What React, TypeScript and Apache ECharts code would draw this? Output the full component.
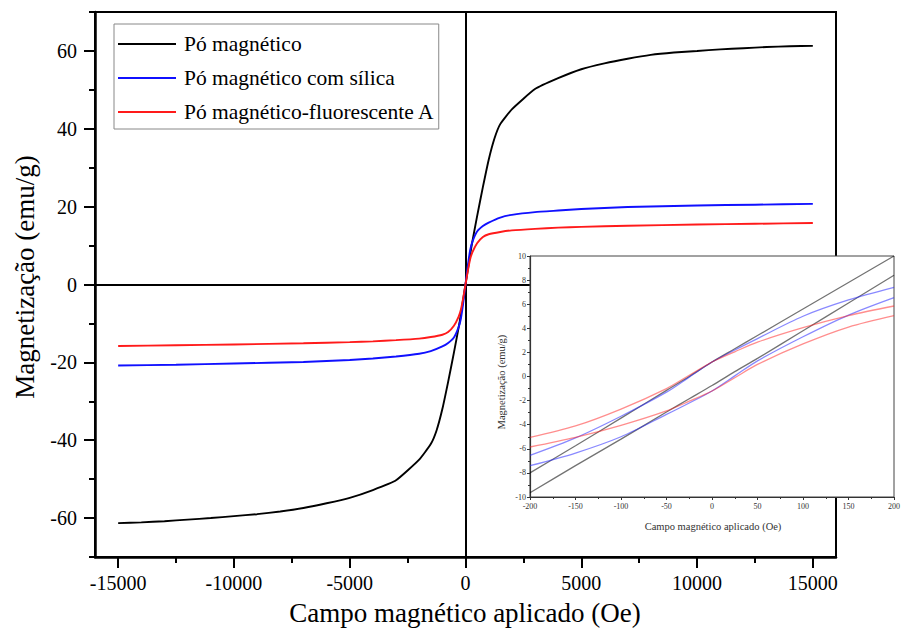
import React, { useEffect, useRef } from "react";
import * as echarts from "echarts";

// ---------- Data ----------
const seriesNames = ["Pó magnético", "Pó magnético com sílica", "Pó magnético-fluorescente A"];

const fieldBlack = [-15000, -14000, -13000, -12000, -11000, -10000, -9000, -8000, -7000, -6000, -5000, -4000, -3000, -2000, -1500, -1250, -1000, -750, -500, -250, 0, 250, 500, 750, 1000, 1250, 1500, 2000, 3000, 4000, 5000, 6000, 7000, 8000, 9000, 10000, 11000, 12000, 13000, 14000, 15000];
const magBlack = [-61.3, -61.1, -60.8, -60.4, -60.0, -59.5, -59.0, -58.3, -57.4, -56.2, -54.8, -52.8, -50.3, -45.0, -41.0, -37.5, -32.0, -25.0, -17.5, -9.5, 0, 9.5, 17.5, 25.0, 32.0, 37.5, 41.2, 45.0, 50.2, 53.0, 55.3, 56.8, 58.0, 59.0, 59.6, 60.0, 60.4, 60.7, 61.0, 61.2, 61.3];

const fieldSilica = [-15000, -12500, -10000, -7000, -5000, -4000, -3000, -2000, -1500, -1000, -750, -500, -300, -200, -100, 0, 100, 200, 300, 500, 750, 1000, 1500, 2000, 3000, 4000, 5000, 7000, 10000, 12500, 15000];
const magSilica = [-20.8, -20.6, -20.3, -19.9, -19.4, -19.0, -18.5, -17.8, -17.1, -15.9, -15.0, -13.6, -11.0, -8.8, -4.8, 0, 4.8, 8.8, 11.0, 13.6, 15.0, 15.9, 17.2, 17.9, 18.6, 19.0, 19.4, 19.9, 20.3, 20.5, 20.7];
const magFluor = [-15.8, -15.6, -15.4, -15.1, -14.8, -14.6, -14.3, -13.9, -13.5, -12.9, -12.2, -10.6, -8.3, -6.5, -3.5, 0, 3.5, 6.5, 8.3, 10.6, 12.2, 12.9, 13.5, 13.9, 14.3, 14.6, 14.8, 15.1, 15.4, 15.6, 15.8];

// inset (hysteresis detail)
const insetField = [-200, -150, -100, -50, -25, 0, 25, 50, 100, 150, 200];
const blackUpper = [-8.0, -5.75, -3.45, -1.15, 0.0, 1.2, 2.3, 3.4, 5.6, 7.8, 10.0];
const blackLower = [-9.65, -7.4, -5.2, -2.95, -1.85, -0.75, 0.4, 1.5, 3.8, 6.1, 8.4];
const silicaUpper = [-6.55, -5.1, -3.3, -1.3, -0.05, 1.2, 2.2, 3.15, 5.0, 6.35, 7.4];
const silicaLower = [-7.4, -6.35, -5.0, -3.15, -2.2, -1.2, 0.05, 1.3, 3.3, 5.1, 6.55];
const fluorUpper = [-5.05, -4.1, -2.7, -1.0, 0.1, 1.2, 2.05, 2.85, 4.05, 5.05, 5.85];
const fluorLower = [-5.85, -5.05, -4.05, -2.85, -2.05, -1.2, -0.1, 1.0, 2.7, 4.1, 5.05];

// tick values
const xMajorTicks = [-15000, -10000, -5000, 0, 5000, 10000, 15000];
const xMinorTicks = [-12500, -7500, -2500, 2500, 7500, 12500];
const yMajorTicks = [-60, -40, -20, 0, 20, 40, 60];
const yMinorTicks = [-70, -50, -30, -10, 10, 30, 50, 70];

const xTitle = "Campo magnético aplicado (Oe)";
const yTitle = "Magnetização (emu/g)";

const FONT = "Liberation Serif";

const pair = (xs: number[], ys: number[]) => xs.map((x, i) => [x, ys[i]]);

export default function App() {
  const ref = useRef<HTMLDivElement>(null);

  useEffect(() => {
    if (!ref.current) return;
    const chart = echarts.init(ref.current, undefined, { renderer: "svg" });

    const mainLine = (name: string, data: number[][], color: string, extra: any = {}) => ({
      name,
      type: "line",
      xAxisIndex: 0,
      yAxisIndex: 0,
      data,
      showSymbol: false,
      symbol: "none",
      smooth: 0.15,
      lineStyle: { color, width: 1.9 },
      itemStyle: { color },
      z: 3,
      ...extra,
    });

    const insetLine = (name: string, ys: number[], color: string, extra: any = {}) => ({
      name,
      type: "line",
      xAxisIndex: 2,
      yAxisIndex: 2,
      data: pair(insetField, ys),
      showSymbol: false,
      symbol: "none",
      smooth: 0.3,
      lineStyle: { color, width: 1.3 },
      itemStyle: { color },
      z: 12,
      ...extra,
    });

    const insetLabel = {
      fontFamily: FONT,
      fontSize: 8,
      color: "#333",
      formatter: (v: number) => String(v),
    };

    const option: any = {
      animation: false,
      backgroundColor: "#fff",
      textStyle: { fontFamily: FONT },
      grid: [
        {
          left: 95,
          top: 12,
          right: 67,
          bottom: 78,
          show: true,
          borderColor: "#000",
          borderWidth: 2,
          backgroundColor: "transparent",
          z: 0,
        },
        {
          left: 530,
          top: 256,
          right: 9,
          bottom: 138,
          show: true,
          borderColor: "#444",
          borderWidth: 1,
          backgroundColor: "#fff",
          z: 10,
        },
      ],
      legend: {
        data: seriesNames,
        orient: "vertical",
        left: 114,
        top: 24,
        padding: [9, 4, 6, 4],
        itemGap: 12,
        icon: "rect",
        itemWidth: 58,
        itemHeight: 2,
        borderColor: "#888",
        borderWidth: 1,
        backgroundColor: "#fff",
        textStyle: { fontFamily: FONT, fontSize: 21.5, color: "#000", padding: [0, 0, 0, 3], lineHeight: 21 },
      },
      xAxis: [
        {
          gridIndex: 0,
          type: "value",
          min: -16000,
          max: 16000,
          position: "bottom",
          axisLine: { show: true, onZero: false, lineStyle: { color: "#000", width: 2.5 } },
          axisTick: { show: true, customValues: xMajorTicks, length: 11, lineStyle: { color: "#000", width: 2 } },
          axisLabel: {
            customValues: xMajorTicks,
            margin: 16,
            fontFamily: FONT,
            fontSize: 20,
            color: "#000",
            formatter: (v: number) => String(v),
          },
          splitLine: { show: false },
        },
        {
          gridIndex: 0,
          type: "value",
          min: -16000,
          max: 16000,
          position: "bottom",
          axisLine: { show: false, onZero: false },
          axisTick: { show: true, customValues: xMinorTicks, length: 6, lineStyle: { color: "#000", width: 2 } },
          axisLabel: { show: false },
          splitLine: { show: false },
        },
        {
          gridIndex: 1,
          type: "value",
          min: -200,
          max: 200,
          interval: 50,
          position: "bottom",
          z: 11,
          axisLine: { show: true, onZero: false, lineStyle: { color: "#333", width: 1.2 } },
          axisTick: { show: true, length: 3, lineStyle: { color: "#333", width: 1 } },
          minorTick: { show: true, splitNumber: 2, length: 2, lineStyle: { color: "#333", width: 1 } },
          axisLabel: { ...insetLabel, margin: 5 },
          splitLine: { show: false },
        },
      ],
      yAxis: [
        {
          gridIndex: 0,
          type: "value",
          min: -70,
          max: 70,
          position: "left",
          axisLine: { show: true, onZero: false, lineStyle: { color: "#000", width: 2.5 } },
          axisTick: { show: true, customValues: yMajorTicks, length: 11, lineStyle: { color: "#000", width: 2 } },
          axisLabel: {
            customValues: yMajorTicks,
            margin: 18,
            fontFamily: FONT,
            fontSize: 20,
            color: "#000",
            formatter: (v: number) => String(v),
          },
          splitLine: { show: false },
        },
        {
          gridIndex: 0,
          type: "value",
          min: -70,
          max: 70,
          position: "left",
          axisLine: { show: false, onZero: false },
          axisTick: { show: true, customValues: yMinorTicks, length: 6, lineStyle: { color: "#000", width: 2 } },
          axisLabel: { show: false },
          splitLine: { show: false },
        },
        {
          gridIndex: 1,
          type: "value",
          min: -10,
          max: 10,
          interval: 2,
          position: "left",
          z: 11,
          axisLine: { show: true, onZero: false, lineStyle: { color: "#333", width: 1.2 } },
          axisTick: { show: true, length: 3, lineStyle: { color: "#333", width: 1 } },
          minorTick: { show: true, splitNumber: 2, length: 2, lineStyle: { color: "#333", width: 1 } },
          axisLabel: { ...insetLabel, margin: 4 },
          splitLine: { show: false },
        },
      ],
      series: [
        mainLine(seriesNames[0], pair(fieldBlack, magBlack), "#000000", {
          markLine: {
            silent: true,
            symbol: ["none", "none"],
            label: { show: false },
            lineStyle: { color: "#000", width: 2, type: "solid" },
            data: [{ xAxis: 0 }, { yAxis: 0 }],
            z: 1,
          },
        }),
        mainLine(seriesNames[1], pair(fieldSilica, magSilica), "#1010ff"),
        mainLine(seriesNames[2], pair(fieldSilica, magFluor), "#ff1a1a"),
        insetLine("inset-black-upper", blackUpper, "rgba(0,0,0,0.55)", {
          markLine: {
            silent: true,
            symbol: ["none", "none"],
            label: { show: false },
            lineStyle: { color: "#000", width: 1, type: "solid" },
            data: [{ xAxis: 0 }, { yAxis: 0 }],
          },
        }),
        insetLine("inset-black-lower", blackLower, "rgba(0,0,0,0.55)"),
        insetLine("inset-silica-upper", silicaUpper, "rgba(40,40,255,0.55)"),
        insetLine("inset-silica-lower", silicaLower, "rgba(40,40,255,0.55)"),
        insetLine("inset-fluor-upper", fluorUpper, "rgba(255,30,30,0.5)"),
        insetLine("inset-fluor-lower", fluorLower, "rgba(255,30,30,0.5)"),
      ],
      graphic: [
        {
          type: "text",
          x: 465,
          y: 613,
          z: 20,
          style: { text: xTitle, fontFamily: FONT, fontSize: 27, fill: "#000", align: "center", verticalAlign: "middle" },
        },
        {
          type: "text",
          x: 25,
          y: 277,
          rotation: Math.PI / 2,
          z: 20,
          style: { text: yTitle, fontFamily: FONT, fontSize: 27, fill: "#000", align: "center", verticalAlign: "middle" },
        },
        {
          type: "text",
          x: 713,
          y: 526,
          z: 20,
          style: { text: xTitle, fontFamily: FONT, fontSize: 10.5, fill: "#333", align: "center", verticalAlign: "middle" },
        },
        {
          type: "text",
          x: 501,
          y: 382,
          rotation: Math.PI / 2,
          z: 20,
          style: { text: yTitle, fontFamily: FONT, fontSize: 10.5, fill: "#333", align: "center", verticalAlign: "middle" },
        },
      ],
    };

    chart.setOption(option);
    return () => chart.dispose();
  }, []);

  return <div ref={ref} style={{ position: "fixed", left: 0, top: 0, width: 903, height: 635 }} />;
}
